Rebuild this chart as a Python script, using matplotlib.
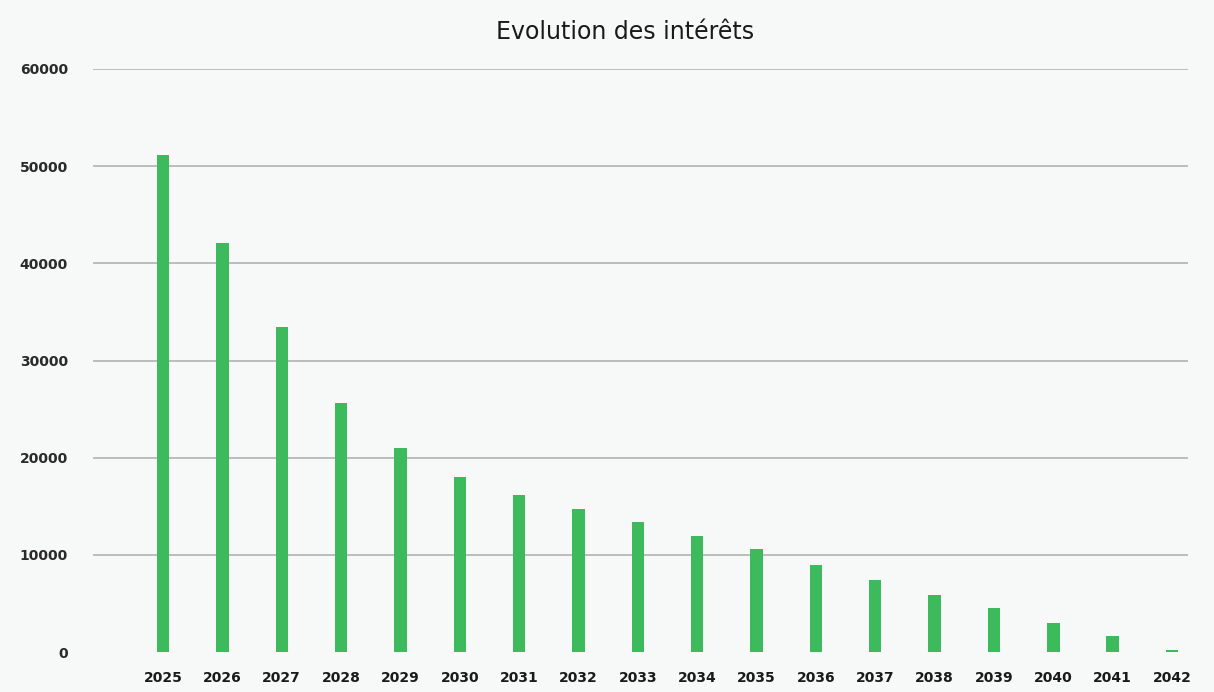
import matplotlib
matplotlib.use("Agg")
import matplotlib.pyplot as plt

years = [str(y) for y in range(2025, 2043)]
interets = [51100, 42100, 33400, 25600, 21000, 18000, 16200, 14700, 13400,
            11900, 10600, 9000, 7400, 5900, 4500, 3000, 1600, 250]
y_ticks = [0, 10000, 20000, 30000, 40000, 50000, 60000]
title = "Evolution des intérêts"

W, H = 1214, 692
fig = plt.figure(figsize=(W / 100, H / 100), dpi=100)
fig.patch.set_facecolor("#f7f8f8")
ax = fig.add_axes([93 / W, 1 - 652 / H, (1188 - 93) / W, (652 - 69) / H])
ax.set_facecolor("#f7f8f8")

x = list(range(len(years)))
ax.bar(x, interets, width=0.21, color="#3cba5c", zorder=3)

ax.set_ylim(0, 60000)
ax.set_xlim(-1.18, 17.27)
ax.set_yticks(y_ticks)
ax.set_yticklabels([str(v) for v in y_ticks], fontsize=10, fontweight="bold", color="#2a2a2a")
ax.set_xticks(x)
ax.set_xticklabels(years, fontsize=10, fontweight="bold", color="#1a1a1a")
ax.tick_params(axis="y", length=0, pad=18)
ax.tick_params(axis="x", length=0, pad=14)
for v in y_ticks[1:]:
    ax.axhline(v, color="#bcbcbc", linewidth=1.4, zorder=0)
for s in ax.spines.values():
    s.set_visible(False)

fig.text(625 / W, 1 - 32 / H, title, ha="center", va="center", fontsize=17, color="#1a1a1a")

fig.savefig("out.png", dpi=100, facecolor=fig.get_facecolor())
